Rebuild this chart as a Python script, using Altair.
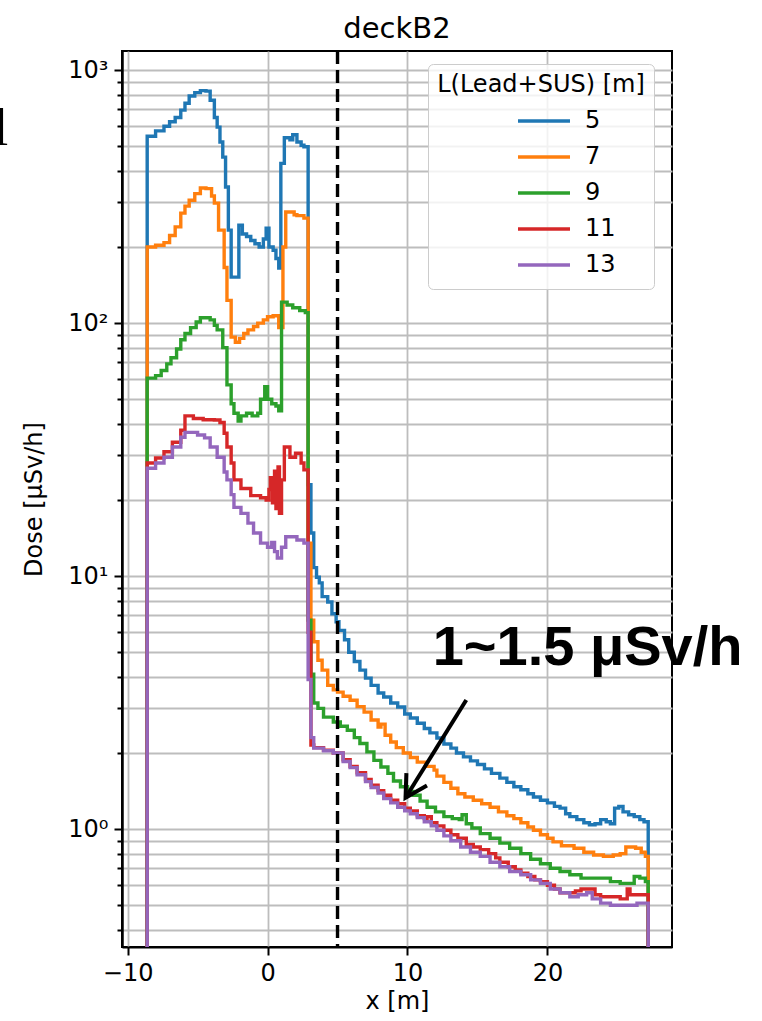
import altair as alt
import pandas as pd

# ---------------- data ----------------
series_labels = ["5", "7", "9", "11", "13"]
series_colors = ["#1f77b4", "#ff7f0e", "#2ca02c", "#d62728", "#9467bd"]

X_END = 27.2      # right edge of the last bin
FLOOR = 0.05      # histogram falls to (near) zero outside the range

x_5 = [-8.6, -8.0, -7.4, -7.0, -6.6, -6.2, -5.9, -5.6, -5.2, -4.8, -4.4, -4.1, -3.8, -3.6, -3.4,
       -3.2, -3.0, -2.8, -2.6, -2.05, -1.8, -1.5, -1.2, -0.9, -0.6, -0.3, -0.1, 0.1, 0.4, 0.6,
       0.8, 0.95, 1.2, 1.6, 1.8, 2.1, 2.4, 2.6, 2.9, 3.1, 3.3, 3.5, 3.7, 3.9, 4.3,
       4.6, 4.9, 5.1, 5.5, 5.8, 6.2, 6.6, 7.0, 7.4, 7.9, 8.3, 8.8, 9.3, 9.8, 10.2,
       10.7, 11.2, 11.6, 12.1, 12.6, 13.1, 13.5, 14.0, 14.5, 15.0, 15.5, 16.0, 16.6, 17.1, 17.6,
       18.1, 18.6, 19.0, 19.5, 20.0, 20.5, 20.9, 21.3, 21.6, 22.1, 22.6, 23.0, 23.4, 23.8, 24.2,
       24.5, 24.8, 25.1, 25.4, 25.8, 26.2, 26.6, 26.9]
dose_5 = [548, 575, 600, 625, 650, 695, 740, 790, 815, 830, 826, 760, 650, 595, 520,
          453, 345, 233, 152, 244, 225, 220, 212, 206, 200, 215, 237, 200, 194, 180,
          165, 428, 540, 530, 555, 520, 505, 498, 23, 14.8, 10.8, 9.9, 9.4, 8.3, 7.9,
          7.1, 6.6, 6.1, 5.6, 5.0, 4.6, 4.25, 3.95, 3.7, 3.45, 3.33, 3.15, 3.04, 2.85, 2.75,
          2.62, 2.5, 2.4, 2.29, 2.17, 2.09, 2.0, 1.93, 1.86, 1.80, 1.73, 1.66, 1.59, 1.53, 1.47,
          1.43, 1.38, 1.34, 1.30, 1.27, 1.23, 1.21, 1.15, 1.12, 1.09, 1.06, 1.04, 1.05, 1.09, 1.07,
          1.05, 1.21, 1.23, 1.17, 1.14, 1.12, 1.09, 1.07]

x_7 = [-8.6, -8.0, -7.4, -7.0, -6.6, -6.2, -5.9, -5.6, -5.2, -4.8, -4.4, -4.0, -3.8, -3.5, -3.1,
       -2.9, -2.6, -2.3, -2.0, -1.7, -1.4, -1.0, -0.7, -0.3, 0.0, 0.4, 0.8, 1.1, 1.3, 1.9,
       2.1, 2.6, 2.9, 3.1, 3.3, 3.6, 3.9, 4.3, 4.7, 5.0, 5.4, 5.9, 6.4, 6.9, 7.4,
       7.9, 8.1, 8.4, 8.8, 9.2, 9.7, 10.2, 10.7, 11.3, 11.9, 12.1, 12.6, 13.1, 13.6, 14.1,
       14.7, 15.3, 15.9, 16.5, 17.1, 17.6, 18.1, 18.6, 19.0, 19.5, 20.0, 20.4, 21.0, 21.9, 22.6,
       23.3, 24.0, 24.7, 25.2, 25.6, 26.3, 26.7, 27.0]
dose_7 = [200, 203, 208, 222, 240, 272, 290, 306, 325, 342, 340, 318, 298, 233, 166,
          123, 88, 84, 87, 91, 94, 97, 100, 103, 106, 107, 96, 200, 275, 268,
          266, 260, 13.5, 6.7, 5.5, 4.65, 4.25, 3.7, 3.55, 3.48, 3.35, 3.23, 3.05, 2.9, 2.7,
          2.53, 2.6, 2.35, 2.21, 2.1, 2.0, 1.92, 1.84, 1.77, 1.71, 1.62, 1.53, 1.45, 1.38, 1.34,
          1.30, 1.26, 1.22, 1.17, 1.13, 1.10, 1.06, 1.02, 0.99, 0.95, 0.92, 0.89, 0.86, 0.84, 0.81,
          0.79, 0.78, 0.79, 0.80, 0.85, 0.84, 0.81, 0.78]

x_9 = [-8.6, -8.0, -7.6, -7.2, -6.9, -6.5, -6.2, -5.9, -5.5, -5.1, -4.8, -4.1, -3.8, -3.6, -3.2,
       -2.9, -2.6, -2.4, -2.1, -1.9, -1.5, -1.1, -0.7, -0.5, -0.2, 0.0, 0.3, 0.6, 0.8, 1.0,
       1.4, 1.8, 2.3, 2.7, 2.9, 3.1, 3.3, 3.6, 4.0, 4.7, 5.2, 5.7, 6.2, 6.6, 7.1,
       7.6, 8.1, 8.6, 9.0, 9.5, 10.0, 10.4, 10.9, 11.4, 12.0, 12.6, 13.2, 13.7, 13.9, 14.2,
       14.6, 15.2, 15.9, 16.6, 17.3, 18.1, 18.8, 19.5, 20.2, 20.9, 21.6, 22.4, 23.1, 23.8, 24.5,
       25.2, 26.0, 26.2, 26.6, 27.0]
dose_9 = [60.6, 62, 65, 69, 73, 79, 86, 91, 96, 101, 105, 103, 98, 94, 80,
          57, 48, 44, 41, 43, 44, 43, 44, 50, 56, 50, 48, 47, 45, 121,
          118, 115, 112, 110, 6.7, 4.1, 3.15, 3.0, 2.77, 2.65, 2.55, 2.46, 2.3, 2.18, 2.02,
          1.87, 1.76, 1.66, 1.55, 1.47, 1.41, 1.36, 1.29, 1.22, 1.17, 1.12, 1.10, 1.09, 1.14, 1.05,
          1.01, 0.96, 0.92, 0.88, 0.84, 0.80, 0.76, 0.73, 0.70, 0.68, 0.66, 0.64, 0.64, 0.64, 0.62,
          0.61, 0.61, 0.65, 0.64, 0.62]

x_11 = [-8.6, -8.0, -7.4, -6.8, -6.2, -5.9, -5.3, -4.6, -3.8, -3.4, -3.1, -2.9, -2.6, -2.4, -1.9,
        -1.2, -0.5, -0.1, 0.1, 0.2, 0.35, 0.5, 0.6, 0.75, 0.85, 1.0, 1.2, 1.6, 2.0, 2.4,
        2.6, 2.9, 3.1, 3.3, 4.0, 4.7, 5.4, 5.9, 6.4, 7.0, 7.4, 7.9, 8.3, 8.8, 9.3,
        9.8, 10.2, 10.7, 11.2, 11.4, 11.7, 12.1, 12.6, 13.1, 13.6, 13.8, 14.2, 14.7, 15.2, 15.8,
        16.3, 16.6, 17.2, 17.7, 18.1, 18.6, 19.1, 19.5, 20.0, 20.5, 20.9, 21.4, 22.0, 22.4, 22.9,
        23.4, 23.8, 24.5, 25.2, 25.7, 25.9, 26.4, 27.0]
dose_11 = [28, 29.3, 31, 33.8, 37.7, 43, 42, 41.5, 41.4, 40.5, 36.7, 32.4, 28, 24, 22.2,
           20.8, 20.4, 20, 22, 24.5, 19.5, 26, 18.5, 27, 17.7, 24, 32.4, 29.5, 30.6, 28,
           26.3, 6.0, 2.15, 2.1, 2.05, 2.0, 1.88, 1.77, 1.67, 1.57, 1.49, 1.42, 1.36, 1.30, 1.26,
           1.21, 1.18, 1.13, 1.10, 1.12, 1.06, 1.03, 0.99, 0.95, 0.91, 0.92, 0.87, 0.85, 0.83, 0.80,
           0.77, 0.74, 0.71, 0.69, 0.67, 0.65, 0.63, 0.62, 0.60, 0.58, 0.56, 0.56, 0.57, 0.58, 0.58,
           0.55, 0.54, 0.54, 0.53, 0.58, 0.55, 0.55, 0.55]

x_13 = [-8.6, -8.0, -7.4, -6.8, -6.2, -5.9, -5.5, -5.0, -4.5, -4.1, -3.6, -3.1, -2.9, -2.6, -2.4,
        -1.9, -1.4, -1.0, -0.5, 0.0, 0.3, 0.5, 0.7, 1.0, 1.3, 1.8, 2.1, 2.6, 2.9, 3.1,
        3.3, 4.0, 4.7, 5.4, 5.9, 6.4, 7.0, 7.4, 7.9, 8.3, 8.8, 9.3, 9.8, 10.2, 10.7,
        11.2, 11.7, 12.1, 12.6, 13.1, 13.8, 14.5, 15.2, 15.9, 16.6, 17.3, 18.1, 18.8, 19.5, 20.2,
        20.9, 21.6, 22.2, 22.8, 23.2, 23.8, 24.5, 25.7, 26.4, 27.0]
dose_13 = [26.7, 28, 29.5, 32.4, 35.4, 37, 37, 36.1, 35.2, 32.4, 29.5, 25.8, 24, 21, 18.7,
           17.7, 16.2, 14.8, 13.5, 13.0, 13.6, 12.5, 11.8, 13.0, 14.3, 14.3, 13.9, 13.5, 3.9, 2.3,
           2.09, 2.04, 2.0, 1.85, 1.75, 1.64, 1.54, 1.46, 1.39, 1.32, 1.27, 1.22, 1.18, 1.15, 1.11,
           1.07, 1.03, 0.99, 0.94, 0.90, 0.85, 0.81, 0.78, 0.74, 0.71, 0.68, 0.66, 0.63, 0.61, 0.58,
           0.56, 0.54, 0.55, 0.56, 0.53, 0.51, 0.50, 0.50, 0.51, 0.51]

series_x = [x_5, x_7, x_9, x_11, x_13]
series_dose = [dose_5, dose_7, dose_9, dose_11, dose_13]

boundary_x = [5]                       # dashed vertical line
annot_text = ["1~1.5 μSv/h"]
annot_x, annot_y = [11.8], [4.45]      # text anchor (data coords)
arrow_from = (14.2, 3.24)
arrow_to = (9.86, 1.33)

major_y = [1, 10, 100, 1000]
minor_y = [m * d for d in [0.1, 1, 10, 100] for m in range(2, 10) if 0.342 < m * d < 1190]
x_ticks = [-10, 0, 10, 20]

# ---------------- build table ----------------
rows = []
for lab, xs, ds in zip(series_labels, series_x, series_dose):
    i = 0
    rows.append({"x": xs[0], "dose": FLOOR, "L": lab, "i": i}); i += 1
    for xv, dv in zip(xs, ds):
        rows.append({"x": xv, "dose": dv, "L": lab, "i": i}); i += 1
    rows.append({"x": X_END, "dose": ds[-1], "L": lab, "i": i}); i += 1
    rows.append({"x": X_END, "dose": FLOOR, "L": lab, "i": i}); i += 1
df = pd.DataFrame(rows)

FONT = "DejaVu Sans"
xscale = alt.Scale(domain=[-10.4, 28.9], nice=False, zero=False)
yscale = alt.Scale(type="log", domain=[0.342, 1190], nice=False)

lines = alt.Chart(df).mark_line(interpolate="step-after", strokeWidth=3.4, clip=True).encode(
    x=alt.X("x:Q", scale=xscale, title="x [m]",
            axis=alt.Axis(values=x_ticks, tickSize=8, labelPadding=6, grid=True,
                          titlePadding=4)),
    y=alt.Y("dose:Q", scale=yscale, title="Dose [μSv/h]",
            axis=alt.Axis(orient="left", values=major_y, tickSize=8, labelPadding=6,
                          grid=True, titlePadding=21,
                          labelExpr="datum.value == 1 ? '10⁰' : datum.value == 10 ? '10¹' : datum.value == 100 ? '10²' : datum.value == 1000 ? '10³' : ''")),
    color=alt.Color("L:N", scale=alt.Scale(domain=series_labels, range=series_colors),
                    legend=alt.Legend(title="L(Lead+SUS) [m]", orient="none", legendX=306, legendY=13,
                                      symbolType="stroke", symbolSize=2704, symbolStrokeWidth=3.4,
                                      labelFontSize=24, titleFontSize=24, titleFontWeight="normal",
                                      labelFont=FONT, titleFont=FONT, labelColor="black", titleColor="black",
                                      titleLimit=400, padding=9, fillColor="rgba(255,255,255,0.8)",
                                      strokeColor="#cccccc", cornerRadius=5, titleAnchor="middle",
                                      titlePadding=9, symbolOffset=49, labelOffset=13,
                                      clipHeight=30, rowPadding=6)),
    order=alt.Order("i:Q"),
)

rule_df = pd.DataFrame({"x": boundary_x})
vline = alt.Chart(rule_df).mark_rule(color="black", strokeWidth=3.4, strokeDash=[13, 6]).encode(
    x=alt.X("x:Q", scale=xscale, title="x [m]")
)

arrow_df = pd.DataFrame({"x": [arrow_from[0]], "y": [arrow_from[1]],
                         "x2": [arrow_to[0]], "y2": [arrow_to[1]]})
arrow = alt.Chart(arrow_df).mark_rule(color="black", strokeWidth=4).encode(
    x=alt.X("x:Q", scale=xscale, title="x [m]"),
    y=alt.Y("y:Q", scale=yscale, title=None,
            axis=alt.Axis(orient="left", values=minor_y, labels=False, tickSize=5, grid=True)),
    x2="x2:Q", y2="y2:Q",
)

head_df = pd.DataFrame({"x": [arrow_to[0]], "y": [arrow_to[1]]})
head = alt.Chart(head_df).mark_point(
    shape="M -0.5 0.9 L 0 0 L 0.5 0.9", filled=False, color="black", strokeWidth=4,
    size=2304, angle=211, opacity=1, strokeJoin="miter"
).encode(
    x=alt.X("x:Q", scale=xscale, title="x [m]"),
    y=alt.Y("y:Q", scale=yscale, axis=None),
)

text_df = pd.DataFrame({"x": annot_x, "y": annot_y, "t": annot_text})
text = alt.Chart(text_df).mark_text(font="Liberation Sans", fontWeight="bold", fontSize=56,
                                    align="left", baseline="alphabetic", color="black").encode(
    x=alt.X("x:Q", scale=xscale, title="x [m]"),
    y=alt.Y("y:Q", scale=yscale, axis=None),
    text="t:N",
)

glyph_df = pd.DataFrame({"t": ["l"]})
glyph = alt.Chart(glyph_df).mark_text(font="Liberation Serif", fontSize=52, align="center",
                                      baseline="alphabetic", color="black").encode(
    text="t:N", x=alt.value(-121), y=alt.value(94)
)

chart = alt.layer(lines, vline, arrow, head, text, glyph).resolve_axis(y="independent").properties(
    width=550, height=896,
    title=alt.TitleParams("deckB2", fontSize=29, font=FONT, fontWeight="normal", color="black",
                          offset=5, anchor="middle"),
    padding={"left": 122, "top": 51, "right": 90, "bottom": 74},
    autosize=alt.AutoSizeParams(type="none"),
).configure_view(
    stroke="black", strokeWidth=2
).configure_axis(
    labelFont=FONT, titleFont=FONT, labelFontSize=24, titleFontSize=24, titleFontWeight="normal",
    labelColor="black", titleColor="black", tickColor="black", domainColor="black",
    domainWidth=2, tickWidth=2, gridColor="#bdbdbd", gridWidth=1.8
)

chart.save("out.html", embed_options={"renderer": "svg", "actions": False})
